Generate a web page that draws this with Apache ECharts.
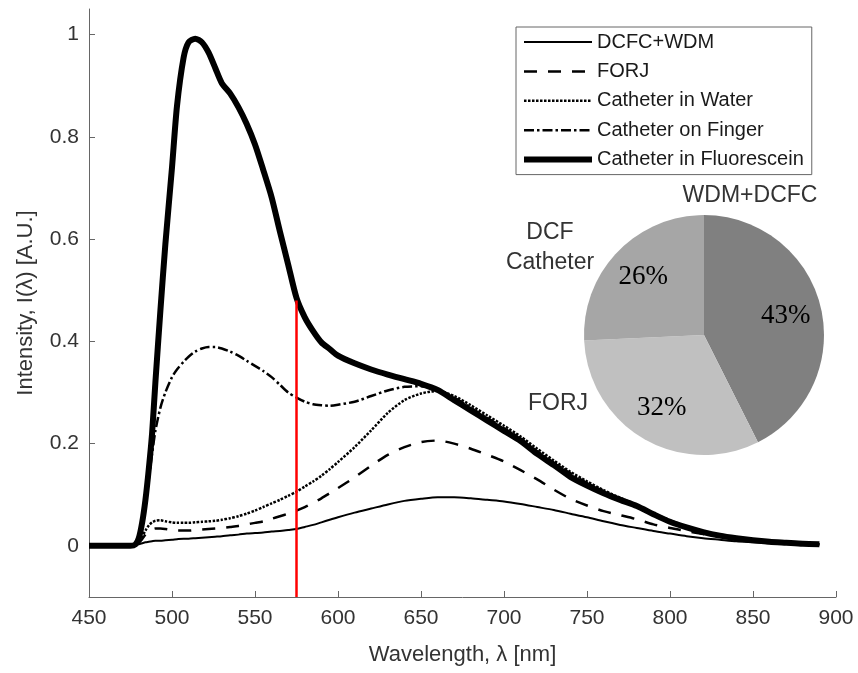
<!DOCTYPE html>
<html>
<head>
<meta charset="utf-8">
<script src="https://cdn.jsdelivr.net/npm/echarts@6/dist/echarts.min.js"></script>
<style>
  html, body { margin: 0; padding: 0; background: #fff; }
  #chart { width: 858px; height: 673px; }
</style>
</head>
<body>
<div id="chart"></div>
<script>
    "use strict";

    // wavelength samples [nm]
    var wavelength = [450, 460, 470, 475, 478, 480, 482, 484, 486, 488, 490, 493, 496, 500, 503, 507, 510, 514, 518, 522,
        526, 530, 535, 540, 545, 550, 555, 560, 565, 570, 575, 580, 585, 590, 595, 600, 610, 620, 630, 640,
        650, 660, 670, 680, 690, 700, 710, 720, 730, 740, 750, 760, 770, 780, 790, 800, 810, 820, 830, 840,
        850, 860, 870, 880, 890];

    var dcfcWdm = [0, 0, 0, 0, 0.001, 0.003, 0.005, 0.007, 0.008, 0.009, 0.010, 0.010, 0.011, 0.012, 0.013, 0.014, 0.014, 0.015, 0.016, 0.017,
        0.018, 0.019, 0.021, 0.022, 0.024, 0.025, 0.026, 0.028, 0.029, 0.031, 0.033, 0.037, 0.041, 0.046, 0.051, 0.056, 0.065, 0.073, 0.081, 0.088,
        0.092, 0.095, 0.095, 0.093, 0.090, 0.087, 0.082, 0.076, 0.070, 0.063, 0.056, 0.048, 0.041, 0.035, 0.029, 0.024, 0.019, 0.015, 0.012, 0.009,
        0.007, 0.005, 0.004, 0.003, 0.003];

    var forj = [0, 0, 0, 0, 0.002, 0.006, 0.013, 0.022, 0.028, 0.032, 0.034, 0.034, 0.033, 0.031, 0.030, 0.030, 0.030, 0.031, 0.032, 0.033,
        0.034, 0.035, 0.037, 0.039, 0.042, 0.045, 0.048, 0.053, 0.058, 0.063, 0.069, 0.076, 0.084, 0.093, 0.103, 0.113, 0.134, 0.157, 0.178, 0.193,
        0.203, 0.206, 0.200, 0.190, 0.178, 0.165, 0.148, 0.130, 0.110, 0.092, 0.079, 0.068, 0.060, 0.052, 0.042, 0.035, 0.029, 0.023, 0.018, 0.013,
        0.010, 0.007, 0.005, 0.004, 0.003];

    var inWater = [0, 0, 0, 0, 0.002, 0.008, 0.018, 0.030, 0.040, 0.046, 0.049, 0.050, 0.048, 0.046, 0.045, 0.045, 0.045, 0.046, 0.047, 0.048,
        0.049, 0.051, 0.054, 0.058, 0.063, 0.069, 0.076, 0.083, 0.090, 0.098, 0.106, 0.116, 0.126, 0.137, 0.150, 0.164, 0.193, 0.226, 0.260, 0.285,
        0.298, 0.303, 0.293, 0.275, 0.255, 0.235, 0.214, 0.190, 0.167, 0.145, 0.126, 0.109, 0.094, 0.080, 0.064, 0.050, 0.038, 0.028, 0.021, 0.015,
        0.011, 0.008, 0.006, 0.004, 0.003];

    var onFinger = [0, 0, 0, 0, 0.003, 0.015, 0.040, 0.080, 0.130, 0.180, 0.225, 0.270, 0.300, 0.330, 0.345, 0.360, 0.370, 0.380, 0.386, 0.389,
        0.389, 0.386, 0.380, 0.372, 0.362, 0.352, 0.342, 0.330, 0.315, 0.300, 0.290, 0.282, 0.277, 0.275, 0.274, 0.276, 0.282, 0.293, 0.304, 0.311,
        0.312, 0.305, 0.290, 0.270, 0.250, 0.230, 0.210, 0.185, 0.163, 0.142, 0.123, 0.107, 0.092, 0.079, 0.063, 0.049, 0.037, 0.028, 0.021, 0.015,
        0.011, 0.008, 0.006, 0.004, 0.003];

    var inFluorescein = [0, 0, 0, 0, 0.003, 0.015, 0.045, 0.090, 0.150, 0.220, 0.320, 0.460, 0.590, 0.740, 0.860, 0.955, 0.985, 0.992, 0.985, 0.965,
        0.935, 0.905, 0.885, 0.858, 0.825, 0.785, 0.735, 0.682, 0.615, 0.550, 0.485, 0.447, 0.420, 0.398, 0.385, 0.372, 0.357, 0.345, 0.335, 0.326,
        0.317, 0.305, 0.285, 0.265, 0.245, 0.225, 0.205, 0.180, 0.158, 0.135, 0.118, 0.103, 0.090, 0.078, 0.062, 0.047, 0.036, 0.027, 0.020, 0.015,
        0.011, 0.008, 0.006, 0.004, 0.003];

    var seriesNames = ["DCFC+WDM", "FORJ", "Catheter in Water", "Catheter on Finger", "Catheter in Fluorescein"];

    // red marker line
    var markerWavelength = 575;
    var markerTop = 0.48;

    // loss breakdown pie
    var pieNames = ["WDM+DCFC", "FORJ", "DCF\nCatheter"];
    var pieValues = [43, 32, 26];
    var pieColors = ["#808080", "#c0c0c0", "#a6a6a6"];
    var pieLabelPos = [[750, 196], [558, 404], [550, 248]];

    var yTicks = [0, 0.2, 0.4, 0.6, 0.8, 1];

    var sans = "Liberation Sans, Arial, sans-serif";
    var serif = "Liberation Serif, Times New Roman, serif";

    function pairs(values) {
        return wavelength.map(function (w, i) { return [w, values[i]]; });
    }

    function lineSeries(name, values, width, type) {
        return {
            type: "line",
            name: name,
            data: pairs(values),
            showSymbol: false,
            symbol: "none",
            smooth: 0.25,
            lineStyle: { color: "#000", width: width, type: type, cap: "butt", join: "round" },
            itemStyle: { color: "#000" },
            z: 3
        };
    }

    var chart = echarts.init(document.getElementById("chart"), null, { renderer: "canvas" });

    var fluorescein = lineSeries(seriesNames[4], inFluorescein, 6, "solid");
    fluorescein.markLine = {
        silent: true,
        symbol: "none",
        label: { show: false },
        lineStyle: { color: "#ff0000", width: 2.5, type: "solid" },
        data: [[{ coord: [markerWavelength, -0.1] }, { coord: [markerWavelength, markerTop] }]]
    };

    var option = {
        animation: false,
        backgroundColor: "#fff",
        textStyle: { fontFamily: sans },
        grid: { left: 89, right: 22, top: 9, bottom: 76 },
        legend: {
            orient: "vertical",
            left: 516,
            top: 27,
            padding: [5, 8, 5, 5],
            itemWidth: 68,
            itemHeight: 20,
            itemGap: 9.4,
            borderColor: "#666",
            borderWidth: 1,
            backgroundColor: "#fff",
            itemStyle: { opacity: 0 },
            lineStyle: { width: "inherit", type: "inherit" },
            textStyle: { fontFamily: sans, fontSize: 20, color: "#1a1a1a" },
            data: seriesNames
        },
        xAxis: {
            type: "value",
            min: 450,
            max: 900,
            interval: 50,
            name: "Wavelength, \u03bb [nm]",
            nameLocation: "middle",
            nameGap: 47,
            nameTextStyle: { fontFamily: sans, fontSize: 22, color: "#333" },
            axisLine: { show: true, onZero: false, lineStyle: { color: "#666", width: 1 } },
            axisTick: { show: true, inside: true, length: 6, lineStyle: { color: "#666" } },
            axisLabel: { fontFamily: sans, fontSize: 21, color: "#333", margin: 11 },
            splitLine: { show: false }
        },
        yAxis: {
            type: "value",
            min: -0.1,
            max: 1.05,
            name: "Intensity, I(\u03bb) [A.U.]",
            nameLocation: "middle",
            nameGap: 52,
            nameTextStyle: { fontFamily: sans, fontSize: 22, color: "#333" },
            axisLine: { show: true, onZero: false, lineStyle: { color: "#666", width: 1 } },
            axisTick: { show: true, inside: true, length: 6, customValues: yTicks, lineStyle: { color: "#666" } },
            axisLabel: { fontFamily: sans, fontSize: 21, color: "#333", margin: 10, customValues: yTicks },
            splitLine: { show: false }
        },
        series: [
            lineSeries(seriesNames[0], dcfcWdm, 2, "solid"),
            lineSeries(seriesNames[1], forj, 2.5, [13, 11]),
            lineSeries(seriesNames[2], inWater, 2.5, [2.5, 1.5]),
            lineSeries(seriesNames[3], onFinger, 2.5, [10, 3, 2.5, 3]),
            fluorescein,
            {
                type: "pie",
                name: "loss",
                center: [704, 335],
                radius: 120,
                startAngle: 90,
                clockwise: true,
                silent: true,
                avoidLabelOverlap: false,
                data: pieNames.map(function (n, i) {
                    return { name: n, value: pieValues[i], itemStyle: { color: pieColors[i] } };
                }),
                label: {
                    show: true,
                    position: "outside",
                    formatter: "{b}",
                    fontFamily: sans,
                    fontSize: 23,
                    lineHeight: 30,
                    color: "#333"
                },
                labelLine: { show: false },
                labelLayout: function (params) {
                    var p = pieLabelPos[params.dataIndex];
                    return { x: p[0], y: p[1], align: "center", verticalAlign: "middle" };
                },
                z: 4
            },
            {
                type: "pie",
                name: "lossPct",
                center: [704, 335],
                radius: 162,
                startAngle: 90,
                clockwise: true,
                silent: true,
                data: pieNames.map(function (n, i) {
                    return { name: n, value: pieValues[i] };
                }),
                itemStyle: { color: "rgba(0,0,0,0)" },
                label: {
                    show: true,
                    position: "inside",
                    formatter: "{c}%",
                    fontFamily: serif,
                    fontSize: 27,
                    color: "#000"
                },
                labelLine: { show: false },
                z: 5
            }
        ]
    };

    chart.setOption(option);
</script>
</body>
</html>
